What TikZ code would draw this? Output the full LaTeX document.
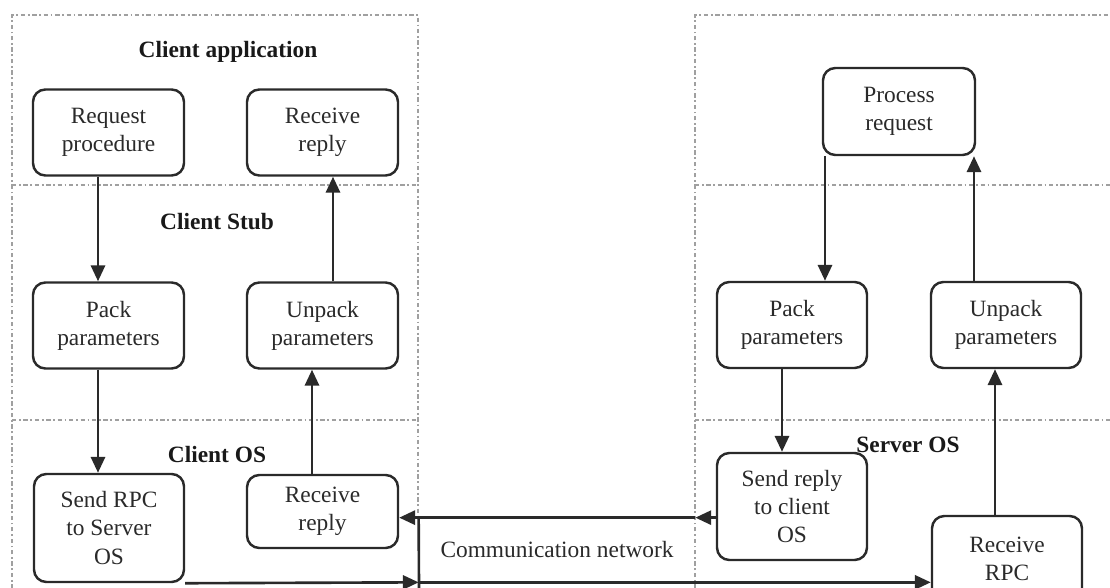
\documentclass[tikz,border=0pt]{standalone}
\usepackage{fontspec}
\setmainfont{Liberation Serif}
\usetikzlibrary{arrows.meta}
\definecolor{ink}{HTML}{2A2A2A}
\definecolor{panel}{HTML}{A0A0A0}
\tikzset{
  stepbox/.style={draw=ink, line width=1.4pt, rounded corners=7pt, align=center,
    text=ink, inner sep=0pt, font=\fontsize{13.3}{16}\selectfont,
    minimum width=151*0.02cm, minimum height=86*0.02cm},
  layer/.style={text=black!90, font=\fontsize{13.3}{16}\selectfont\bfseries},
  flow/.style={draw=ink, line width=1.5pt, -{Triangle[length=9pt,width=8pt]}},
  wire/.style={draw=ink, line width=1.5pt},
  panelline/.style={draw=panel, line width=0.7pt,
    dash pattern=on 2.5pt off 1.5pt on 1pt off 1.5pt},
}
\begin{document}
\begin{tikzpicture}[x=0.02cm, y=-0.02cm]
\useasboundingbox (0,0) rectangle (1110,588);
\clip (0,0) rectangle (1110,588);
\fill[white] (0,0) rectangle (1110,588);

% client and server panels with their layer separators
\draw[panelline] (12,600) -- (12,15) -- (418,15) -- (418,518);
\draw[panelline] (12,185) -- (418,185);
\draw[panelline] (12,420) -- (418,420);
\draw[panelline] (695,600) -- (695,15) -- (1120,15);
\draw[panelline] (695,185) -- (1120,185);
\draw[panelline] (695,420) -- (1120,420);

% layer titles
\node[layer] (lapp)  at (228,52)  {Client application};
\node[layer] (lstub) at (217,222) {Client Stub};
\node[layer] (los)   at (217,455) {Client OS};
\node[layer] (sos)   at (908,445) {Server OS};

% client side steps
\node[stepbox] (req) at (108.5,132.5) {Request\\procedure};
\node[stepbox] (rr1) at (322.5,132.5) {Receive\\reply};
\node[stepbox] (pk1) at (108.5,325.5) {Pack\\parameters};
\node[stepbox] (up1) at (322.5,325.5) {Unpack\\parameters};
\node[stepbox, minimum width=150*0.02cm, minimum height=108*0.02cm] (send) at (109,528) {Send RPC\\to Server\\OS};
\node[stepbox, minimum height=73*0.02cm] (rr2) at (322.5,511.5) {Receive\\reply};

% server side steps
\node[stepbox, minimum width=152*0.02cm, minimum height=87*0.02cm] (proc) at (899,111.5) {Process\\request};
\node[stepbox, minimum width=150*0.02cm] (pk2) at (792,325) {Pack\\parameters};
\node[stepbox, minimum width=150*0.02cm] (up2) at (1006,325) {Unpack\\parameters};
\node[stepbox, minimum width=150*0.02cm, minimum height=107*0.02cm] (sendr) at (792,506.5) {Send reply\\to client\\OS};
\node[stepbox, minimum width=150*0.02cm] (rrpc) at (1007,559) {Receive\\RPC};

% communication network between the two hosts
\node[text=ink, font=\fontsize{13.3}{16}\selectfont, minimum width=276*0.02cm,
      minimum height=64*0.02cm, inner sep=0pt] (net) at (557,550) {Communication network};
\coordinate (netfoot) at (419,588);
\draw[wire] (net.north west) -- (net.north east);
\draw[wire] (net.north west) -- (netfoot);

% vertical lanes of the connectors
\coordinate (xa) at (98,0);
\coordinate (xb) at (312,0);
\coordinate (xc) at (333,0);
\coordinate (xd) at (825,0);
\coordinate (xe) at (974,0);
\coordinate (xf) at (782,0);
\coordinate (xg) at (995,0);

% request path
\draw[flow] (req.south -| xa) -- (pk1.north -| xa);
\draw[flow] (pk1.south -| xa) -- (send.north -| xa);
\draw[flow] (send.south east) -- (net.south west);
\draw[flow] (net.south west) -- (rrpc.west |- net.south);
\draw[flow] (rrpc.north -| xg) -- (up2.south -| xg);
\draw[flow] (up2.north -| xe) -- (proc.south -| xe);

% reply path
\draw[flow] (proc.south -| xd) -- (pk2.north -| xd);
\draw[flow] (pk2.south -| xf) -- (sendr.north -| xf);
\draw[flow] (sendr.west |- net.north) -- (net.north east);
\draw[flow] (net.north east) -- (rr2.east |- net.north);
\draw[flow] (rr2.north -| xb) -- (up1.south -| xb);
\draw[flow] (up1.north -| xc) -- (rr1.south -| xc);
\end{tikzpicture}
\end{document}
